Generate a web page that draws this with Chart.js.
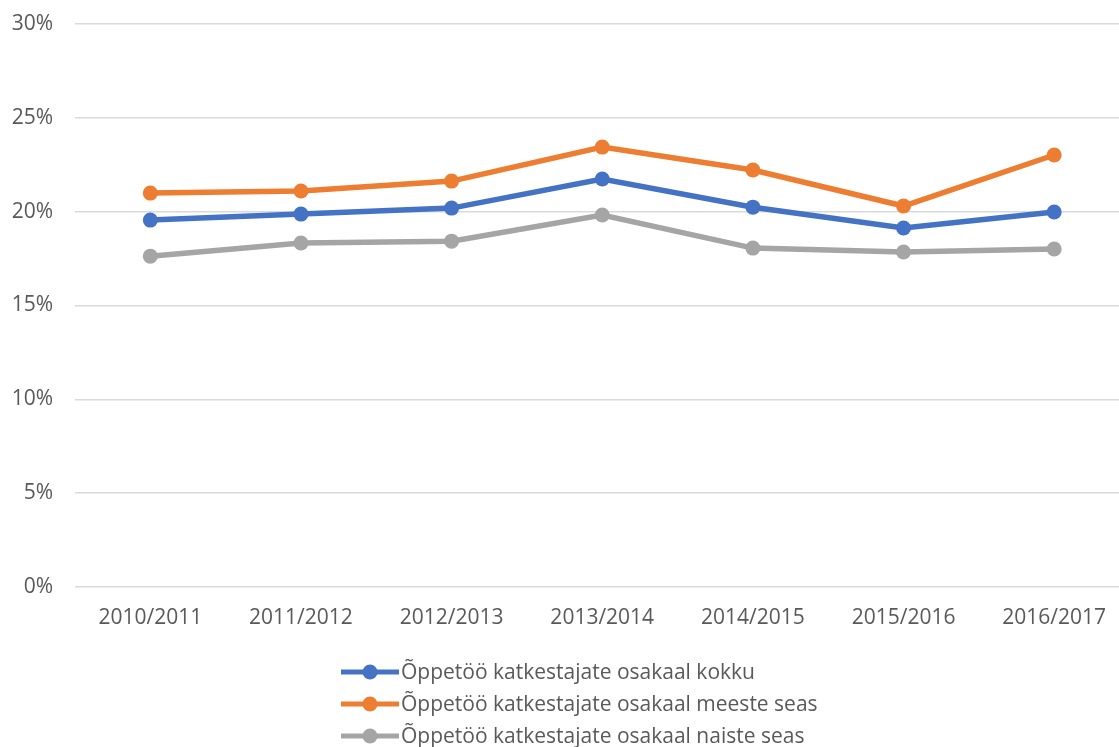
<!DOCTYPE html>
<html>
<head>
<meta charset="utf-8">
<script src="https://cdn.jsdelivr.net/npm/chart.js@4/dist/chart.umd.min.js"></script>
<style>
  html, body { margin: 0; padding: 0; background: #fff; overflow: hidden; }
  #wrap { width: 1137px; height: 747px; position: relative; }
</style>
</head>
<body>
<div id="wrap"><canvas id="chart" width="1137" height="747"></canvas></div>
<script>
const years = ['2010/2011', '2011/2012', '2012/2013', '2013/2014', '2014/2015', '2015/2016', '2016/2017'];
const seriesNames = [
  'Õppetöö katkestajate osakaal kokku',
  'Õppetöö katkestajate osakaal meeste seas',
  'Õppetöö katkestajate osakaal naiste seas'
];
const totalShare = [19.55, 19.87, 20.19, 21.74, 20.24, 19.13, 19.98];
const menShare = [20.99, 21.10, 21.63, 23.44, 22.22, 20.30, 23.02];
const womenShare = [17.63, 18.33, 18.43, 19.82, 18.06, 17.85, 18.01];

const colors = ['#4472C4', '#ED7D31', '#A5A5A5'];
const FONT = '"Open Sans", "Liberation Sans", sans-serif';

const legendPlugin = {
  id: 'sideLegend',
  afterDraw(chart) {
    const ctx = chart.ctx;
    ctx.save();
    chart.data.datasets.forEach((ds, i) => {
      const y = 672 + 32 * i;
      ctx.strokeStyle = ds.borderColor;
      ctx.lineWidth = 5;
      ctx.beginPath();
      ctx.moveTo(341, y);
      ctx.lineTo(399, y);
      ctx.stroke();
      ctx.fillStyle = ds.borderColor;
      ctx.beginPath();
      ctx.arc(370, y, 7.5, 0, Math.PI * 2);
      ctx.fill();
      ctx.fillStyle = '#595959';
      ctx.font = '21px ' + FONT;
      ctx.textBaseline = 'middle';
      ctx.textAlign = 'left';
      ctx.fillText(ds.label, 401, y + 1);
    });
    ctx.restore();
  }
};

const makeSet = (label, data, color) => ({
  label, data,
  borderColor: color,
  backgroundColor: color,
  borderWidth: 5.5,
  pointRadius: 7.5,
  pointHoverRadius: 7.5,
  pointBorderWidth: 0,
  tension: 0
});

new Chart(document.getElementById('chart'), {
  type: 'line',
  data: {
    labels: years,
    datasets: [
      makeSet(seriesNames[0], totalShare, colors[0]),
      makeSet(seriesNames[1], menShare, colors[1]),
      makeSet(seriesNames[2], womenShare, colors[2])
    ]
  },
  options: {
    responsive: false,
    animation: false,
    devicePixelRatio: 1,
    layout: { padding: { top: 24, right: 0, left: 0, bottom: 0 } },
    plugins: { legend: { display: false }, tooltip: { enabled: false } },
    scales: {
      x: {
        offset: true,
        grid: { display: false, drawTicks: false },
        border: { display: false },
        ticks: { color: '#595959', font: { family: FONT, size: 21 }, padding: 18, maxRotation: 0, autoSkip: false },
        afterFit(scale) { scale.height = 160; }
      },
      y: {
        min: 0, max: 30,
        grid: { color: '#d9d9d9', lineWidth: 1.5, drawTicks: false },
        border: { display: false },
        ticks: { stepSize: 5, color: '#595959', font: { family: FONT, size: 21 }, padding: 22, callback: v => v + '%' },
        afterFit(scale) {
          scale.width = 75;
          scale.paddingTop = 0;
          scale.paddingBottom = 0;
        }
      }
    }
  },
  plugins: [legendPlugin]
});
</script>
</body>
</html>
